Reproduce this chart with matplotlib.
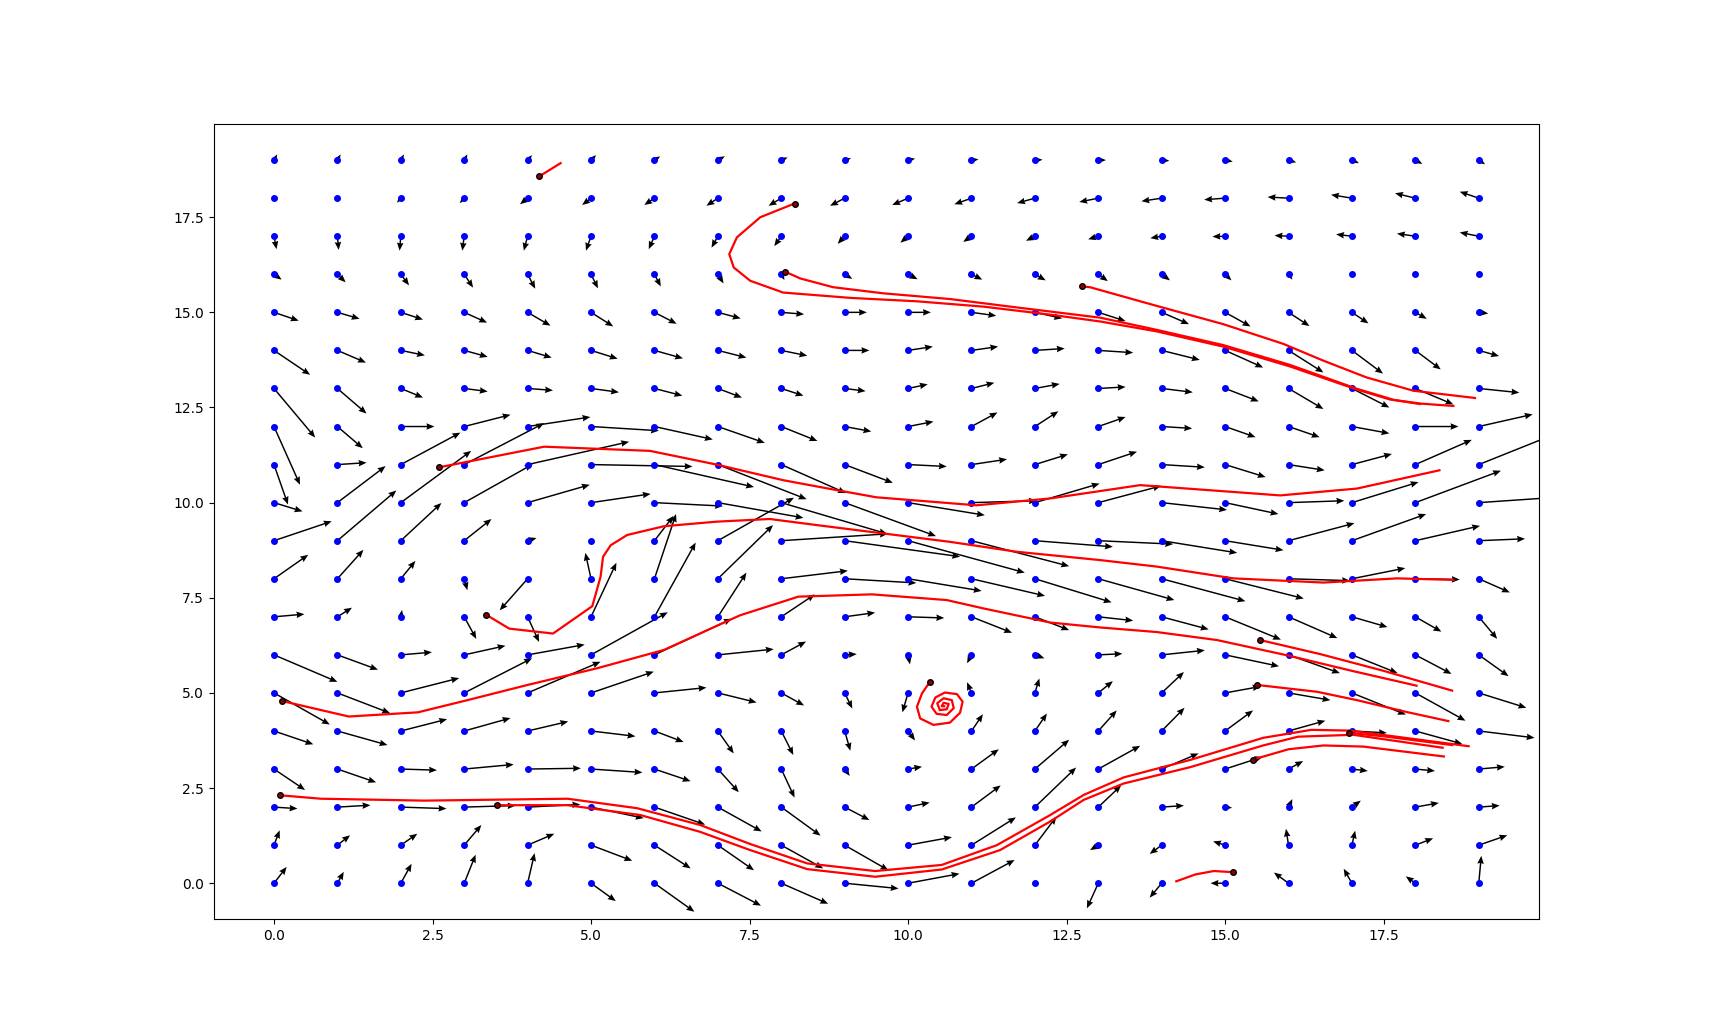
import numpy as np
import matplotlib
matplotlib.use("Agg")
import matplotlib.pyplot as plt

# grid of sample points (0..19 in both directions)
grid_x = list(range(20))
grid_y = list(range(20))

# vector components, one row per y value (row 0 = y 0)
u_rows = [
    [0.2, 0.1, 0.17, 0.18, 0.11, 0.39, 0.63, 0.68, 0.74, 0.85, 0.81, 0.68, 0.0, -0.18, -0.19, -0.23, -0.23, -0.13, -0.15, 0.04],
    [0.09, 0.2, 0.26, 0.27, 0.42, 0.65, 0.57, 0.57, 0.66, 0.69, 0.69, 0.7, 0.34, -0.13, -0.19, -0.19, -0.04, 0.05, 0.28, 0.45],
    [0.37, 0.52, 0.72, 0.81, 0.83, 0.83, 0.8, 0.69, 0.62, 0.39, 0.34, 0.46, 0.65, 0.36, 0.35, 0.11, 0.06, 0.14, 0.37, 0.33],
    [0.49, 0.61, 0.57, 0.78, 0.84, 0.81, 0.57, 0.33, 0.21, 0.08, 0.22, 0.43, 0.54, 0.66, 0.58, 0.59, 0.23, 0.25, 0.31, 0.41],
    [0.62, 0.79, 0.73, 0.73, 0.64, 0.7, 0.46, 0.25, 0.19, 0.09, 0.11, 0.18, 0.19, 0.29, 0.36, 0.44, 0.58, 0.55, 0.74, 0.88],
    [0.88, 0.83, 0.92, 1.07, 1.15, 0.99, 0.82, 0.61, 0.36, 0.12, -0.09, -0.07, 0.07, 0.23, 0.35, 0.56, 0.66, 0.85, 0.79, 0.75],
    [1.0, 0.64, 0.49, 0.65, 0.9, 1.21, 1.22, 0.88, 0.39, 0.19, 0.03, -0.07, 0.15, 0.38, 0.68, 0.85, 0.81, 0.72, 0.57, 0.47],
    [0.48, 0.23, 0.02, 0.19, 0.18, 0.4, 0.65, 0.45, 0.53, 0.48, 0.57, 0.64, 0.54, 0.55, 0.74, 0.88, 0.77, 0.56, 0.41, 0.29],
    [0.54, 0.41, 0.23, 0.05, -0.44, -0.09, 0.34, 0.87, 1.05, 1.13, 1.16, 1.16, 1.21, 1.2, 1.32, 1.24, 0.97, 0.84, 0.7, 0.49],
    [0.91, 0.93, 0.64, 0.43, 0.14, 0.0, 0.3, 1.2, 1.68, 1.82, 1.84, 1.54, 1.23, 1.18, 1.19, 0.92, 1.04, 1.17, 1.02, 0.73],
    [0.45, 0.76, 1.11, 1.08, 0.98, 0.94, 1.08, 1.35, 1.67, 1.44, 1.21, 1.03, 1.02, 0.99, 1.03, 0.84, 0.88, 1.05, 1.35, 1.4],
    [0.22, 0.46, 0.94, 1.26, 1.6, 1.6, 1.57, 1.4, 1.02, 0.76, 0.61, 0.56, 0.52, 0.61, 0.68, 0.64, 0.57, 0.63, 0.89, 1.2],
    [0.41, 0.4, 0.53, 0.73, 0.99, 1.07, 0.92, 0.74, 0.57, 0.42, 0.4, 0.41, 0.37, 0.43, 0.48, 0.48, 0.49, 0.59, 0.68, 0.85],
    [0.65, 0.46, 0.35, 0.37, 0.4, 0.44, 0.44, 0.38, 0.35, 0.33, 0.31, 0.36, 0.39, 0.43, 0.49, 0.53, 0.55, 0.59, 0.6, 0.64],
    [0.57, 0.45, 0.38, 0.37, 0.38, 0.42, 0.45, 0.45, 0.41, 0.39, 0.39, 0.42, 0.47, 0.55, 0.6, 0.6, 0.55, 0.49, 0.4, 0.32],
    [0.39, 0.35, 0.35, 0.36, 0.36, 0.35, 0.35, 0.36, 0.36, 0.35, 0.36, 0.39, 0.43, 0.43, 0.43, 0.4, 0.33, 0.26, 0.18, 0.15],
    [0.12, 0.13, 0.13, 0.14, 0.12, 0.11, 0.1, 0.09, 0.05, 0.12, 0.15, 0.17, 0.17, 0.15, 0.13, 0.1, 0.06, 0.0, 0.0, 0.0],
    [0.04, 0.02, -0.02, -0.03, -0.06, -0.08, -0.09, -0.1, -0.11, -0.11, -0.12, -0.13, -0.14, -0.16, -0.18, -0.2, -0.22, -0.25, -0.29, -0.3],
    [0.0, 0.0, -0.06, -0.07, -0.12, -0.14, -0.16, -0.18, -0.2, -0.23, -0.25, -0.27, -0.28, -0.3, -0.32, -0.33, -0.33, -0.33, -0.32, -0.3],
    [0.05, 0.05, 0.05, 0.05, 0.07, 0.08, 0.09, 0.11, 0.1, 0.1, 0.11, 0.11, 0.12, 0.12, 0.12, 0.12, 0.12, 0.11, 0.11, 0.1],
]
v_rows = [
    [0.43, 0.3, 0.51, 0.75, 0.79, -0.47, -0.75, -0.59, -0.54, -0.14, 0.25, 0.61, 0.0, -0.66, -0.38, 0.0, 0.28, 0.38, 0.18, 0.72],
    [0.39, 0.26, 0.3, 0.53, 0.3, -0.41, -0.61, -0.66, -0.61, -0.66, 0.21, 0.73, 0.75, -0.13, -0.23, 0.1, 0.43, 0.38, 0.18, 0.26],
    [-0.04, 0.05, -0.04, 0.04, 0.07, -0.29, -0.46, -0.64, -0.75, -0.34, 0.12, 0.57, 1.04, 0.57, 0.04, -0.02, 0.21, 0.17, 0.11, 0.04],
    [-0.55, -0.35, -0.03, 0.12, 0.02, -0.09, -0.32, -0.61, -0.75, -0.18, 0.06, 0.52, 0.77, 0.61, 0.41, 0.32, 0.21, -0.05, -0.05, 0.06],
    [-0.35, -0.37, 0.31, 0.34, 0.25, -0.14, -0.29, -0.59, -0.63, -0.52, -0.25, 0.44, 0.46, 0.54, 0.61, 0.54, 0.27, -0.05, -0.34, -0.18],
    [-0.83, -0.53, 0.39, 0.91, 0.82, 0.56, 0.14, -0.25, -0.33, -0.41, -0.51, 0.28, 0.38, 0.31, 0.55, 0.17, -0.19, -0.57, -0.73, -0.39],
    [-0.71, -0.39, 0.07, 0.24, 0.27, 1.12, 0.95, 0.15, 0.35, 0.02, -0.25, -0.22, -0.09, 0.03, 0.12, -0.3, -0.48, -0.48, -0.5, -0.56],
    [0.07, 0.24, 0.18, -0.58, -0.66, 1.42, 1.95, 1.16, 0.59, 0.11, -0.03, -0.42, -0.35, -0.1, -0.33, -0.6, -0.56, -0.27, -0.39, -0.58],
    [0.63, 0.76, 0.47, -0.3, -0.83, 0.68, 1.7, 1.41, 0.21, -0.11, -0.32, -0.45, -0.62, -0.56, -0.59, -0.52, -0.05, 0.28, -0.02, -0.36],
    [0.51, 1.32, 0.99, 0.57, 0.07, 0.0, 0.65, 1.13, 0.18, -0.42, -0.84, -0.67, -0.16, -0.09, -0.32, -0.25, 0.46, 0.7, 0.39, 0.05],
    [-0.23, 0.96, 1.36, 1.01, 0.47, 0.23, -0.09, -0.4, -0.82, -0.88, -0.33, 0.05, 0.5, 0.44, -0.19, -0.3, 0.05, 0.54, 0.84, 0.16],
    [-1.05, 0.05, 0.84, 1.09, 0.6, -0.05, -0.59, -0.91, -0.75, -0.48, -0.05, 0.14, 0.27, 0.34, -0.07, -0.33, -0.15, 0.28, 0.65, 0.8],
    [-1.53, -0.57, 0.0, 0.31, 0.25, -0.11, -0.34, -0.43, -0.38, -0.13, 0.13, 0.37, 0.4, 0.25, -0.05, -0.28, -0.28, -0.18, 0.0, 0.32],
    [-1.29, -0.66, -0.24, -0.08, -0.05, -0.1, -0.19, -0.24, -0.19, -0.07, 0.11, 0.15, 0.12, 0.04, -0.1, -0.34, -0.54, -0.5, -0.42, -0.11],
    [-0.64, -0.32, -0.13, -0.17, -0.19, -0.22, -0.21, -0.19, -0.14, 0.0, 0.1, 0.1, 0.05, -0.06, -0.25, -0.45, -0.58, -0.61, -0.5, -0.15],
    [-0.22, -0.17, -0.19, -0.27, -0.35, -0.37, -0.3, -0.16, -0.05, 0.0, 0.0, -0.09, -0.16, -0.23, -0.31, -0.37, -0.36, -0.29, -0.17, -0.03],
    [-0.14, -0.21, -0.29, -0.35, -0.38, -0.37, -0.32, -0.24, -0.15, -0.12, -0.13, -0.14, -0.16, -0.18, -0.16, -0.16, -0.14, 0.0, 0.0, 0.0],
    [-0.34, -0.36, -0.38, -0.38, -0.38, -0.38, -0.34, -0.3, -0.26, -0.2, -0.17, -0.15, -0.12, -0.08, -0.05, -0.01, 0.02, 0.05, 0.07, 0.1],
    [0.0, -0.02, -0.12, -0.13, -0.16, -0.18, -0.18, -0.2, -0.2, -0.2, -0.18, -0.16, -0.13, -0.1, -0.08, -0.04, 0.03, 0.09, 0.13, 0.17],
    [0.15, 0.15, 0.15, 0.15, 0.13, 0.13, 0.1, 0.1, 0.07, 0.05, 0.04, 0.02, 0.01, 0.0, -0.02, -0.04, -0.06, -0.08, -0.1, -0.11],
]

# particle paths (first point = release position)
path_a_x = [8.21, 7.67, 7.30, 7.18, 7.25, 7.51, 8.03, 9.09, 10.14, 11.19, 12.24, 13.03, 13.92, 14.97, 16.02, 17.08, 17.60, 18.10, 18.60]
path_a_y = [17.86, 17.50, 16.97, 16.53, 16.18, 15.83, 15.52, 15.38, 15.29, 15.15, 14.94, 14.76, 14.50, 14.10, 13.58, 12.97, 12.71, 12.60, 12.54]
path_b_x = [8.06, 8.30, 8.82, 9.61, 10.66, 11.71, 13.03, 13.92, 14.97, 16.02, 17.08, 17.66, 18.07]
path_b_y = [16.07, 15.89, 15.66, 15.50, 15.35, 15.13, 14.86, 14.54, 14.14, 13.62, 12.99, 12.70, 12.59]
path_c_x = [12.75, 12.87, 13.92, 14.97, 15.92, 16.55, 17.23, 17.97, 18.94]
path_c_y = [15.68, 15.66, 15.17, 14.69, 14.17, 13.73, 13.29, 12.94, 12.75]
path_d_x = [2.61, 4.26, 5.93, 6.98, 8.03, 8.87, 9.50, 11.08, 12.24, 13.66, 15.87, 17.08, 18.38]
path_d_y = [10.93, 11.47, 11.36, 11.00, 10.59, 10.33, 10.14, 9.93, 10.11, 10.46, 10.19, 10.37, 10.85]
path_e_x = [3.34, 3.71, 4.40, 5.02, 5.15, 5.19, 5.31, 5.57, 6.15, 6.98, 7.82, 8.56, 9.61, 10.66, 11.71, 13.03, 13.92, 15.13, 16.55, 17.71, 18.60]
path_e_y = [7.06, 6.69, 6.56, 7.28, 8.05, 8.58, 8.88, 9.15, 9.38, 9.50, 9.57, 9.41, 9.19, 8.97, 8.71, 8.49, 8.32, 8.01, 7.90, 8.01, 7.97]
path_f_x = [0.12, 1.18, 2.27, 3.05, 4.00, 5.10, 6.15, 7.35, 8.27, 9.43, 10.61, 11.19, 12.24, 13.03, 13.92, 14.87, 16.00, 17.00, 18.02]
path_f_y = [4.79, 4.38, 4.49, 4.81, 5.21, 5.65, 6.13, 7.04, 7.53, 7.59, 7.44, 7.22, 6.85, 6.72, 6.60, 6.39, 5.98, 5.58, 5.19]
path_g_x = [15.55, 16.50, 17.50, 18.58]
path_g_y = [6.39, 6.02, 5.58, 5.06]
path_h_x = [15.50, 16.45, 17.08, 17.86, 18.52]
path_h_y = [5.21, 5.03, 4.81, 4.50, 4.26]
path_i_x = [3.52, 4.63, 5.78, 6.72, 7.51, 8.41, 9.48, 10.53, 11.45, 12.24, 12.77, 13.40, 14.45, 15.60, 16.15, 17.02, 18.43]
path_i_y = [2.05, 2.05, 1.79, 1.35, 0.87, 0.37, 0.17, 0.36, 0.87, 1.62, 2.19, 2.62, 3.05, 3.62, 3.85, 3.90, 3.56]
path_j_x = [0.10, 0.74, 2.37, 4.63, 5.73, 6.72, 7.51, 8.41, 9.48, 10.53, 11.40, 12.24, 12.77, 13.40, 14.45, 15.60, 16.36, 16.97, 18.84]
path_j_y = [2.31, 2.22, 2.17, 2.22, 1.97, 1.53, 1.03, 0.52, 0.32, 0.48, 1.00, 1.79, 2.32, 2.78, 3.24, 3.82, 4.03, 4.01, 3.60]
path_k_x = [15.44, 16.00, 16.55, 17.18, 18.45]
path_k_y = [3.25, 3.52, 3.62, 3.59, 3.33]
path_l_x = [16.95, 17.50, 18.58]
path_l_y = [3.95, 3.86, 3.63]
path_m_x = [15.13, 14.82, 14.53, 14.23]
path_m_y = [0.29, 0.32, 0.23, 0.05]
path_n_x = [10.34, 10.22, 10.14, 10.19, 10.40, 10.66, 10.82, 10.86, 10.77, 10.58, 10.43, 10.37, 10.45, 10.61, 10.72,
            10.69, 10.56, 10.46, 10.50, 10.61, 10.64, 10.56, 10.53, 10.57]
path_n_y = [5.28, 4.99, 4.64, 4.33, 4.16, 4.22, 4.48, 4.77, 4.97, 5.01, 4.88, 4.64, 4.45, 4.42, 4.60,
            4.81, 4.86, 4.73, 4.55, 4.57, 4.71, 4.74, 4.65, 4.65]
path_o_x = [4.18, 4.52]
path_o_y = [18.57, 18.92]

paths = [
    (path_a_x, path_a_y), (path_b_x, path_b_y), (path_c_x, path_c_y), (path_d_x, path_d_y),
    (path_e_x, path_e_y), (path_f_x, path_f_y), (path_g_x, path_g_y), (path_h_x, path_h_y),
    (path_i_x, path_i_y), (path_j_x, path_j_y), (path_k_x, path_k_y), (path_l_x, path_l_y),
    (path_m_x, path_m_y), (path_n_x, path_n_y), (path_o_x, path_o_y),
]

X, Y = np.meshgrid(grid_x, grid_y)
U = np.array(u_rows)
V = np.array(v_rows)

fig = plt.figure(figsize=(17.1, 10.33), dpi=100)
ax = fig.add_subplot(111)

# hide zero vectors so quiver does not draw a dot for them
mask = (U == 0) & (V == 0)
Um = np.ma.masked_where(mask, U)
Vm = np.ma.masked_where(mask, V)

ax.quiver(X, Y, Um, Vm, angles="xy", scale_units="xy", scale=1,
          color="black", width=0.0011, headwidth=4.5, headlength=5.5, headaxislength=5, zorder=2)
ax.plot(X.ravel(), Y.ravel(), "o", color="blue", markersize=4, zorder=3)

for px, py in paths:
    ax.plot(px, py, color="red", linewidth=1.6, zorder=4)
    ax.plot(px[0], py[0], "o", markersize=4, markerfacecolor="darkred",
            markeredgecolor="black", zorder=5)

ax.set_xlim(-0.95, 19.95)
ax.set_ylim(-0.95, 19.95)
ax.set_xticks([0, 2.5, 5, 7.5, 10, 12.5, 15, 17.5])
ax.set_yticks([0, 2.5, 5, 7.5, 10, 12.5, 15, 17.5])

fig.savefig("out.png", dpi=100)
